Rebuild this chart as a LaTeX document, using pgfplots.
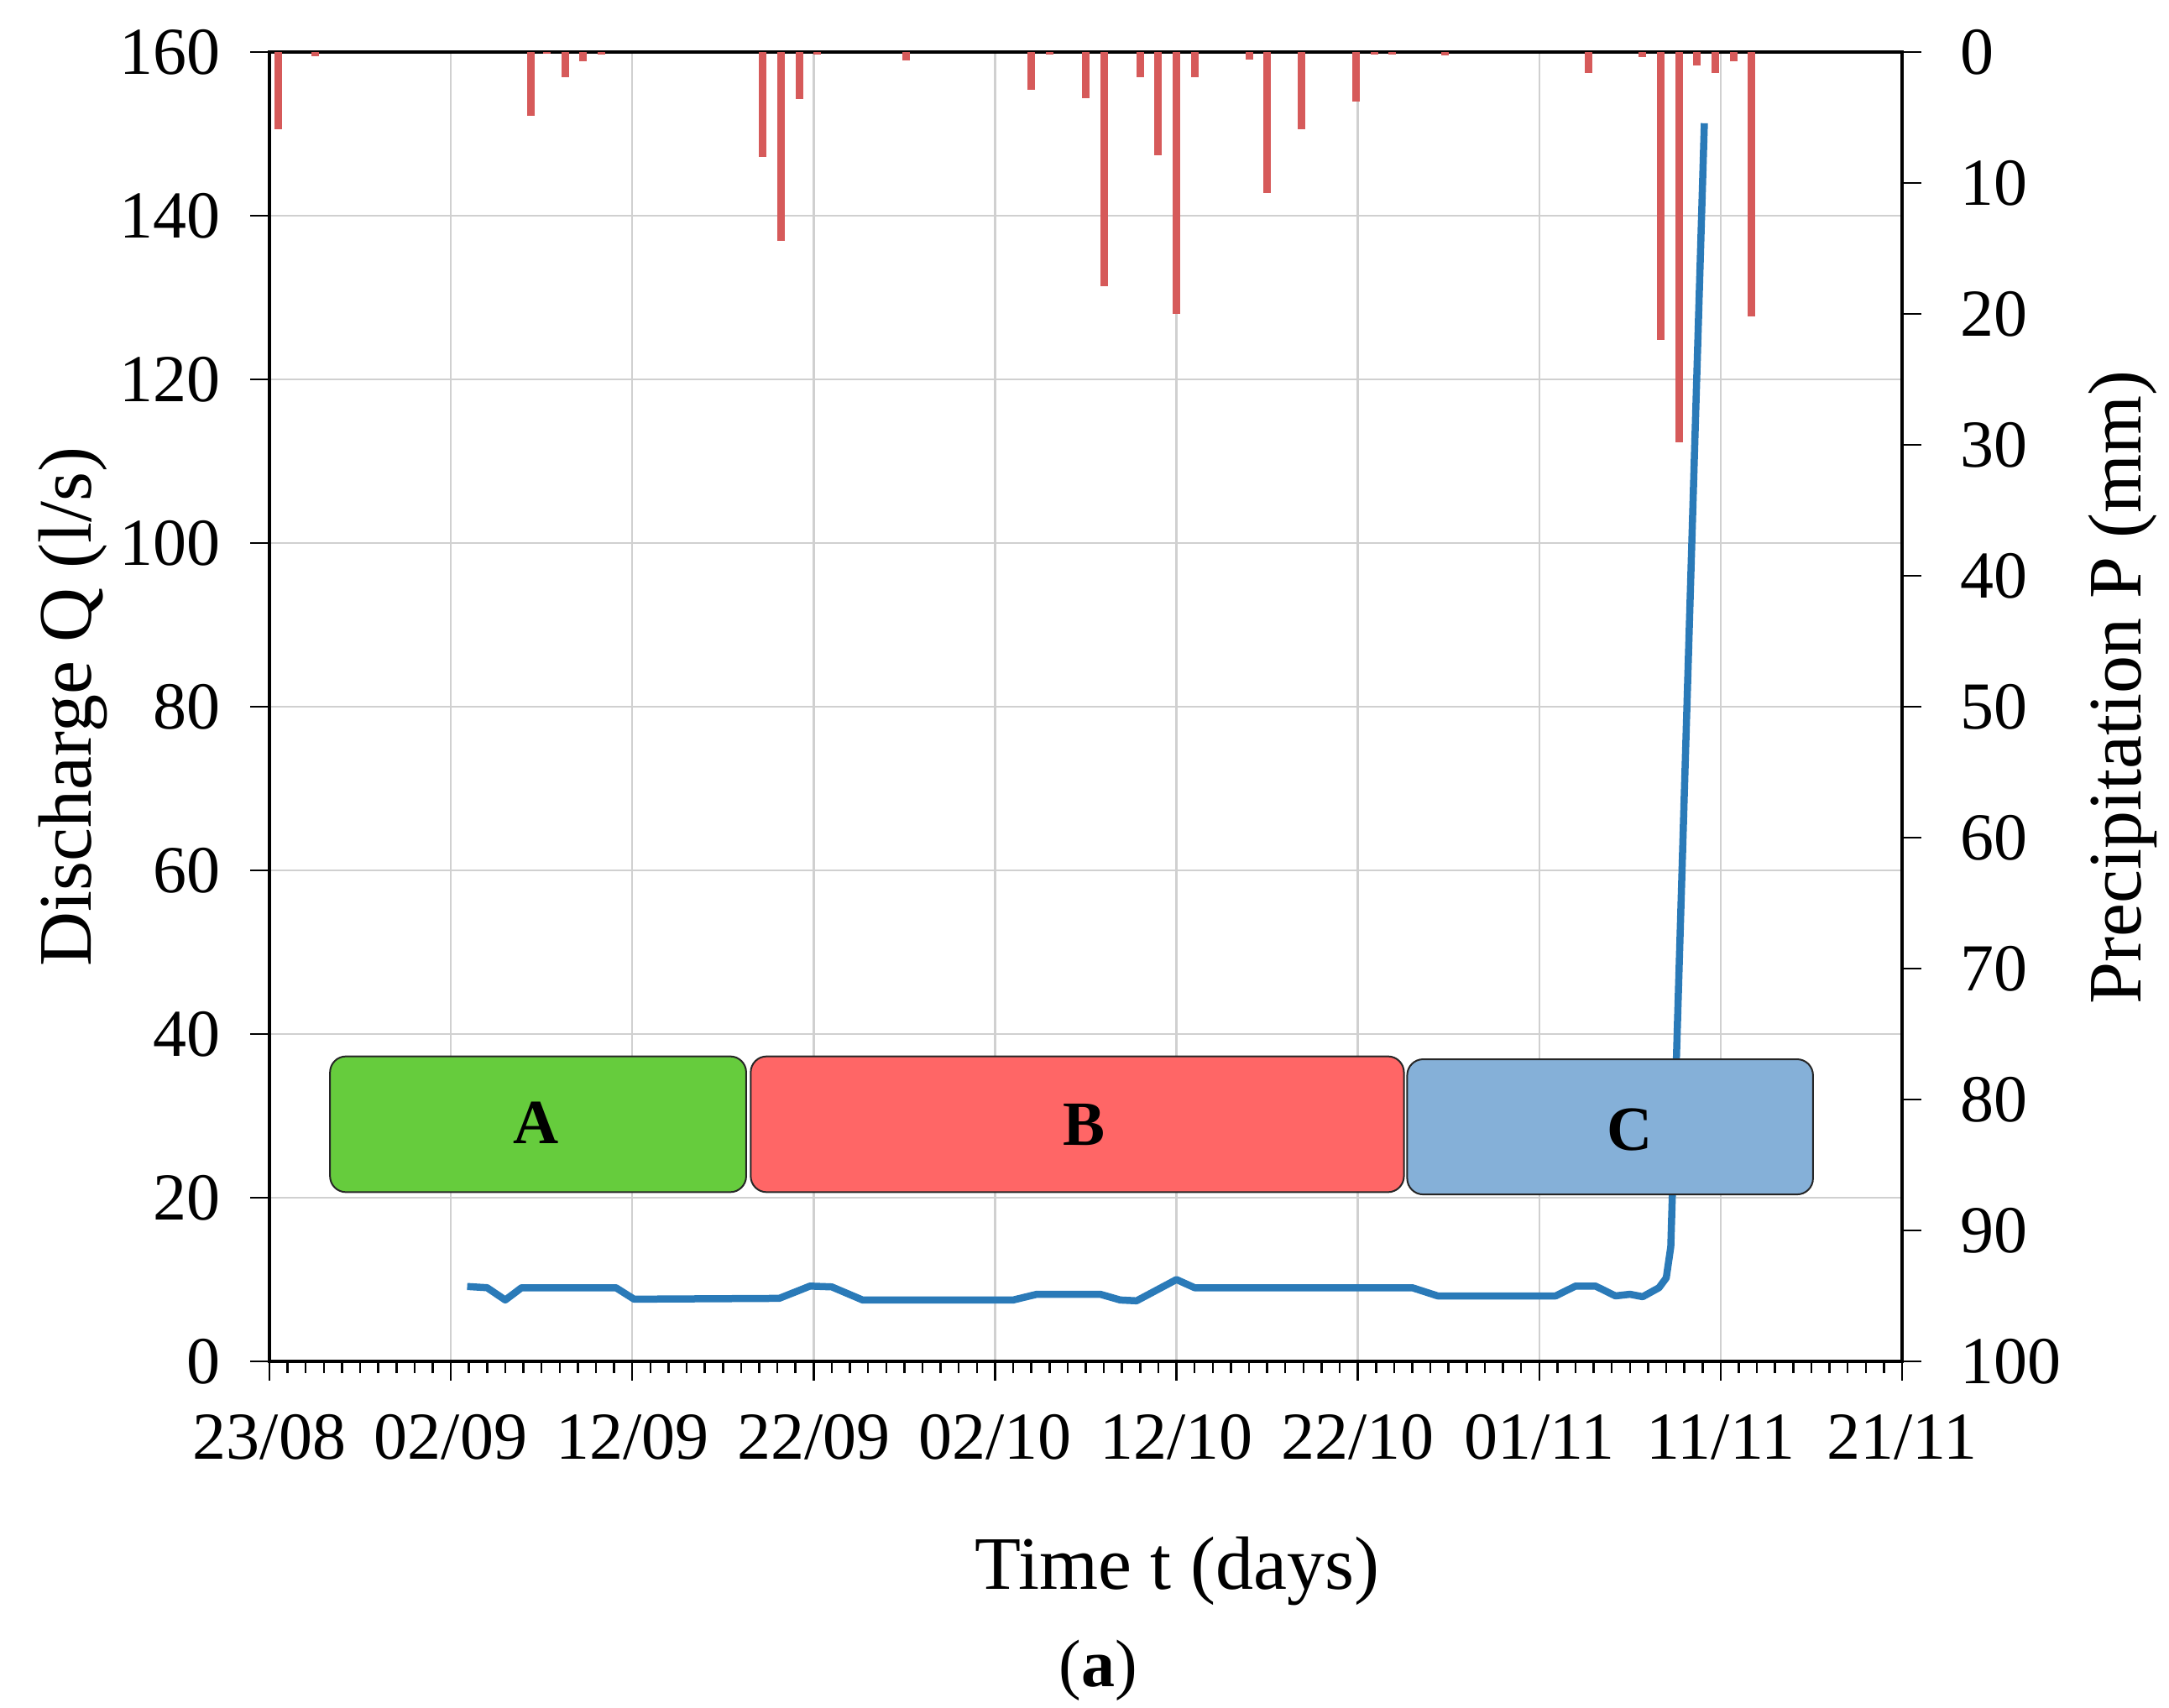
\documentclass[border=0pt]{standalone}
\usepackage{fontspec}
\setmainfont{Liberation Serif}
\usepackage{pgfplots}
\usepackage{pgfplotstable}
\pgfplotsset{compat=1.18}

\definecolor{qline}{HTML}{2A7AB8}
\definecolor{pbar}{HTML}{D65A5A}
\definecolor{boxA}{HTML}{66CC3D}
\definecolor{boxB}{HTML}{FF6666}
\definecolor{boxC}{HTML}{85B0D8}
\definecolor{gridc}{HTML}{D0D0D0}

% discharge, day 0 = 23/08
\pgfplotstableread{
d Q
10.9 9.15
12.0 9.0
13.0 7.5
13.9 9.0
19.1 9.0
20.1 7.6
28.1 7.7
29.8 9.2
31.0 9.1
32.7 7.5
41.0 7.5
42.3 8.2
45.8 8.2
46.9 7.5
47.8 7.4
50.0 10.0
51.0 9.0
63.0 9.0
64.4 8.0
70.9 8.0
72.0 9.2
73.1 9.2
74.2 8.0
75.0 8.2
75.7 7.9
76.6 9.0
77.0 10.2
77.25 14.0
79.1 151.3
}\discharge

% precipitation (mm)
\pgfplotstableread{
d P
0.5 5.9
2.5 0.3
14.4 4.9
15.3 0.15
16.3 1.9
17.3 0.7
18.3 0.2
27.2 8.0
28.2 14.4
29.2 3.6
30.2 0.2
35.1 0.65
42.0 2.9
43.0 0.2
45.0 3.5
46.0 17.9
48.0 1.9
49.0 7.9
50.0 20.0
51.0 1.9
54.0 0.6
55.0 10.8
56.9 5.9
59.9 3.8
60.9 0.2
61.9 0.2
64.8 0.25
72.7 1.6
75.7 0.4
76.7 22.0
77.7 29.8
78.7 1.05
79.7 1.6
80.7 0.68
81.7 20.2
}\rain

\begin{document}
\begin{tikzpicture}
\useasboundingbox (-64.2pt,-82.6pt) rectangle (452.6pt,324.4pt);
\pgfplotsset{
  base/.style={
    width=389pt, height=312pt, scale only axis,
    at={(0pt,0pt)}, anchor=south west,
    xmin=0, xmax=90,
    /pgf/number format/assume math mode=true,
    ticklabel style={font=\fontsize{16}{19}\selectfont},
    label style={font=\fontsize{18}{21}\selectfont},
    axis line style={black, line width=0.7pt},
    tick style={black, line width=0.5pt},
    tick align=outside,
    major tick length=4.5pt,
    minor tick length=2.7pt,
  }
}
\begin{axis}[base,
  ymin=0, ymax=160, ytick={0,20,...,160},
  xtick={0,10,...,90},
  xticklabels={23/08,02/09,12/09,22/09,02/10,12/10,22/10,01/11,11/11,21/11},
  minor x tick num=9,
  tick pos=left,
  grid=major, grid style={gridc, line width=0.5pt},
  xlabel={Time t (days)},
  ylabel={Discharge Q (l/s)},
  xlabel style={at={([yshift=-54.2pt]axis description cs:0.556,0)}, anchor=base},
  ylabel style={at={([xshift=-42.4pt]axis description cs:0,0.5)}, anchor=base},
  yticklabel style={anchor=east, inner sep=0pt, xshift=-6.9pt},
  xticklabel style={anchor=north, inner sep=0pt, yshift=-8pt},
]
\addplot[qline, line width=1.7pt, no marks, line join=round] table[x=d,y=Q]{\discharge};
\draw[fill=boxA, draw=black!85, line width=0.4pt, rounded corners=3.8pt]
  (axis cs:3.34,20.68) rectangle (axis cs:26.28,37.27);
\draw[fill=boxB, draw=black!85, line width=0.4pt, rounded corners=3.8pt]
  (axis cs:26.53,20.68) rectangle (axis cs:62.54,37.27);
\draw[fill=boxC, draw=black!85, line width=0.4pt, rounded corners=3.8pt]
  (axis cs:62.72,20.4) rectangle (axis cs:85.09,36.92);
\node[font=\bfseries\fontsize{15}{18}\selectfont] at (axis cs:14.7,29.2) {A};
\node[font=\bfseries\fontsize{15}{18}\selectfont] at (axis cs:44.9,28.9) {B};
\node[font=\bfseries\fontsize{15}{18}\selectfont] at (axis cs:75.0,28.3) {C};
\end{axis}
\begin{axis}[base,
  ymin=0, ymax=100, y dir=reverse, ytick={0,10,...,100},
  axis y line*=right, axis x line=none, xtick=\empty,
  ylabel={Precipitation P (mm)},
  ylabel style={at={([xshift=56.9pt]axis description cs:1,0.515)}, anchor=base},
  yticklabel style={anchor=west, inner sep=0pt, xshift=9.2pt},
]
\addplot[ycomb, pbar, line width=1.8pt, no marks] table[x=d,y=P]{\rain};
\end{axis}
\node[anchor=base, font=\fontsize{16}{19}\selectfont] at (197.4pt,-77.4pt) {(\textbf{a})};
\end{tikzpicture}
\end{document}
